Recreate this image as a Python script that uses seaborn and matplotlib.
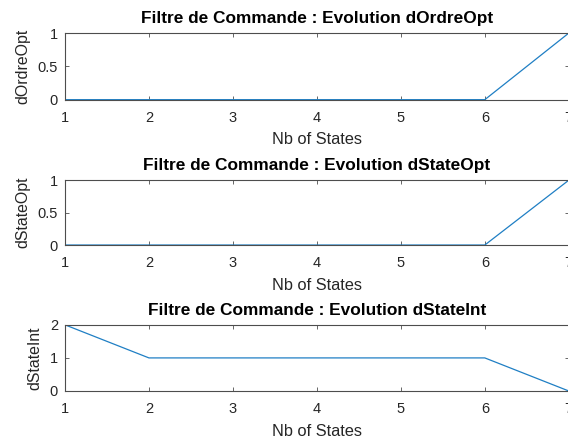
import numpy as np
import pandas as pd
import matplotlib
matplotlib.use("Agg")
import matplotlib.pyplot as plt
import seaborn as sns

nb_states = [1, 2, 3, 4, 5, 6, 7]
d_ordre_opt = [0, 0, 0, 0, 0, 0, 1]
d_state_opt = [0, 0, 0, 0, 0, 0, 1]
d_state_int = [2, 1, 1, 1, 1, 1, 0]

panels = [
    ("dOrdreOpt", d_ordre_opt, [0, 0.5, 1], ["0", "0.5", "1"]),
    ("dStateOpt", d_state_opt, [0, 0.5, 1], ["0", "0.5", "1"]),
    ("dStateInt", d_state_int, [0, 1, 2], ["0", "1", "2"]),
]

sns.set_theme(style="ticks")
plt.rcParams["font.family"] = ["Liberation Sans", "DejaVu Sans"]

fig = plt.figure(figsize=(5.68, 4.41), dpi=100)
# axes boxes in figure fraction; the right edge runs just past the canvas like the reference
positions = [
    [0.1144, 0.774, 0.887, 0.151],
    [0.1144, 0.4444, 0.887, 0.147],
    [0.1144, 0.1134, 0.887, 0.150],
]
text_color = "#262626"
spine_color = "#4d4d4d"

for pos, (name, values, yticks, ylabels) in zip(positions, panels):
    ax = fig.add_axes(pos)
    df = pd.DataFrame({"states": nb_states, "value": values})
    sns.lineplot(data=df, x="states", y="value", color="#1f7fc4", linewidth=0.9, ax=ax)
    ax.set_xlim(1, 7)
    ax.set_ylim(yticks[0], yticks[-1])
    ax.set_xticks(nb_states)
    ax.set_yticks(yticks)
    ax.set_yticklabels(ylabels)
    ax.tick_params(direction="in", top=True, right=True, length=3, width=0.6,
                   labelsize=10.5, color=spine_color, labelcolor=text_color)
    ax.tick_params(axis="x", pad=8)
    ax.tick_params(axis="y", pad=5)
    for spine in ax.spines.values():
        spine.set_visible(True)
        spine.set_linewidth(0.8)
        spine.set_color(spine_color)
    ax.set_xlabel("Nb of States", fontsize=11.8, color=text_color, labelpad=5.5)
    ax.set_ylabel(name, fontsize=11.4, color=text_color, labelpad=5)
    ax.set_title(f"Filtre de Commande : Evolution {name}", fontsize=12.4,
                 fontweight="bold", color="black", pad=7)

fig.savefig("out.png", dpi=100)
